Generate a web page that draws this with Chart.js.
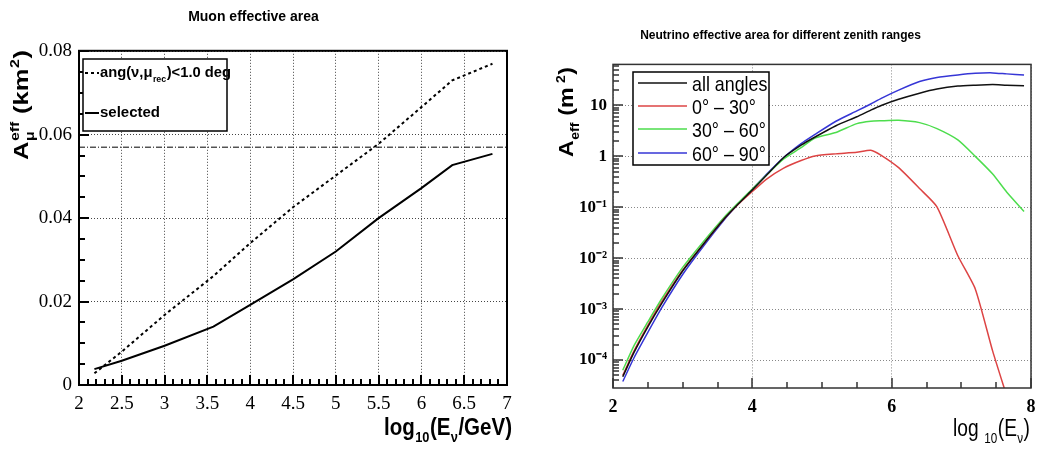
<!DOCTYPE html>
<html>
<head>
<meta charset="utf-8">
<title>Muon and neutrino effective area</title>
<script src="https://cdn.jsdelivr.net/npm/chart.js@4.4.1/dist/chart.umd.min.js"></script>
<style>
html, body { margin: 0; padding: 0; background: #fff; }
#wrap { position: relative; width: 1057px; height: 452px; overflow: hidden; }
#muonChart { position: absolute; left: 0; top: 0; }
#nuChart { position: absolute; left: 530px; top: 0; }
</style>
</head>
<body>
<div id="wrap">
  <canvas id="muonChart" width="530" height="452"></canvas>
  <canvas id="nuChart" width="527" height="452"></canvas>
</div>
<script>
// ---------- left panel: muon effective area (km^2) vs log10(E/GeV) ----------
const muonLogE     = [2.18, 2.5, 3.0, 3.57, 4.0, 4.5, 5.0, 5.5, 6.0, 6.36, 6.83];
const muonAngCut   = [0.0028, 0.0080, 0.0168, 0.0261, 0.0340, 0.0426, 0.0502, 0.0578, 0.0666, 0.0730, 0.0770];
const muonSelected = [0.0038, 0.0058, 0.0094, 0.0140, 0.0192, 0.0253, 0.0320, 0.0400, 0.0472, 0.0527, 0.0554];
const muonRefLevel = 0.0570; // the dash-dot horizontal line
const muonLabels   = ["ang(ν,μrec)<1.0 deg", "selected"];
const muonXMajor = [2, 2.5, 3, 3.5, 4, 4.5, 5, 5.5, 6, 6.5, 7];
const muonXText  = ["2", "2.5", "3", "3.5", "4", "4.5", "5", "5.5", "6", "6.5", "7"];
const muonYMajor = [0, 0.02, 0.04, 0.06, 0.08];
const muonYText  = ["0", "0.02", "0.04", "0.06", "0.08"];

// ---------- right panel: neutrino effective area (m^2), log scale ----------
const nuLogE      = [2.14, 2.3, 2.5, 2.7, 3.0, 3.3, 3.6, 3.8, 4.0, 4.2, 4.45, 4.7, 4.9, 5.2, 5.5, 5.7, 5.85, 6.1, 6.4, 6.65, 6.95, 7.2, 7.45, 7.65, 7.9];
const nuAllAngles = [4.7e-5, 1.4e-4, 4.5e-4, 1.3e-3, 5.6e-3, 0.019, 0.060, 0.117, 0.22, 0.42, 0.95, 1.66, 2.4, 4.0, 6.0, 8.1, 10, 13.2, 17.4, 21, 24, 25, 25.7, 25, 24.5];
const nuZen0to30  = [5.0e-5, 1.5e-4, 4.8e-4, 1.4e-3, 5.8e-3, 0.019, 0.060, 0.115, 0.204, 0.355, 0.59, 0.83, 1.02, 1.12, 1.2, 1.32, 1.05, 0.60, 0.234, 0.102, 0.0112, 2.5e-3, 1.5e-4, 2.0e-5, null];
const nuZen30to60 = [6.3e-5, 1.9e-4, 5.6e-4, 1.6e-3, 6.6e-3, 0.0214, 0.0646, 0.123, 0.229, 0.427, 0.89, 1.48, 2.3, 2.95, 4.4, 4.9, 5.0, 5.1, 4.6, 3.5, 2.1, 1.0, 0.45, 0.20, 0.083];
const nuZen60to90 = [3.8e-5, 1.1e-4, 3.5e-4, 1.07e-3, 4.8e-3, 0.0174, 0.0575, 0.117, 0.224, 0.44, 0.95, 1.78, 2.7, 4.9, 7.8, 10.7, 13.8, 20, 29.5, 35.5, 39.8, 42.7, 43.6, 41.7, 39.8];
const nuLabels    = ["all angles", "0° – 30°", "30° – 60°", "60° – 90°"];
const nuColors    = ["#111111", "#dd4444", "#4ddd4d", "#3636d6"];
const nuXMajor = [2, 4, 6, 8];
const nuXText  = ["2", "4", "6", "8"];
const nuYDecades = [1e-4, 1e-3, 1e-2, 1e-1, 1, 10];
const nuYText    = ["10⁻⁴", "10⁻³", "10⁻²", "10⁻¹", "1", "10"];

const SANS = '"Liberation Sans", Arial, Helvetica, sans-serif';
const SERIF = '"Liberation Serif", "Times New Roman", serif';

// label for a tick value if it is one of the labelled ones, '' otherwise
function tickText(v, values, texts) {
	const i = values.findIndex(m => m === v || Math.abs(m - v) <= 1e-6 * Math.abs(m));
	return i < 0 ? '' : texts[i];
}

function pairs(xs, ys) {
	return xs.map((x, i) => ({x: x, y: ys[i]}));
}

// ROOT-like text: plain strings on the baseline, {sup, sub} pieces smaller and shifted
function drawRich(ctx, pieces, x, y, o) {
	const size = o.size, small = Math.round(size * 0.62);
	const w8 = o.bold ? 'bold ' : '';
	const big = w8 + size + 'px ' + SANS, little = w8 + small + 'px ' + SANS;
	ctx.save();
	ctx.textBaseline = 'alphabetic';
	ctx.textAlign = 'left';
	ctx.fillStyle = '#000';
	const widths = pieces.map(p => {
		if (typeof p === 'string') { ctx.font = big; return ctx.measureText(p).width; }
		ctx.font = little;
		return Math.max(p.sup ? ctx.measureText(p.sup).width : 0, p.sub ? ctx.measureText(p.sub).width : 0) + 1;
	});
	const total = widths.reduce((a, b) => a + b, 0);
	const stretch = o.width ? o.width / total : (o.stretch || 1);
	ctx.translate(x, y);
	if (o.rotate) ctx.rotate(o.rotate);
	ctx.scale(stretch, 1);
	let cx = o.align === 'right' ? -total : 0;
	pieces.forEach((p, i) => {
		if (typeof p === 'string') {
			ctx.font = big;
			ctx.fillText(p, cx, 0);
		} else {
			ctx.font = little;
			if (p.sup) ctx.fillText(p.sup, cx + 0.5, -size * 0.42);
			if (p.sub) ctx.fillText(p.sub, cx + 0.5, size * 0.3);
		}
		cx += widths[i];
	});
	ctx.restore();
}

// ticks pointing into the plot, then the frame round the plot area
function frameAndTicks(chart, o) {
	const ctx = chart.ctx, a = chart.chartArea;
	const xs = chart.scales.x, ys = chart.scales.y;
	ctx.save();
	ctx.setLineDash([]);
	ctx.lineCap = 'butt';
	ctx.strokeStyle = o.tickColor;
	ctx.lineWidth = o.tickWidth;
	ctx.beginPath();
	xs.ticks.forEach(t => {
		const px = Math.round(xs.getPixelForValue(t.value));
		const len = tickText(t.value, o.xVals, o.xVals) !== '' ? o.xMajor : o.xMinor;
		ctx.moveTo(px, a.bottom);
		ctx.lineTo(px, a.bottom - len);
	});
	ys.ticks.forEach(t => {
		const py = Math.round(ys.getPixelForValue(t.value));
		const len = tickText(t.value, o.yVals, o.yVals) !== '' ? o.yMajor : o.yMinor;
		ctx.moveTo(a.left, py);
		ctx.lineTo(a.left + len, py);
	});
	ctx.stroke();
	ctx.lineWidth = o.frameWidth;
	ctx.strokeStyle = o.frameColor;
	ctx.strokeRect(a.left, a.top, a.right - a.left, a.bottom - a.top);
	ctx.restore();
}

function legendBox(ctx, x1, y1, x2, y2, lw) {
	ctx.save();
	ctx.setLineDash([]);
	ctx.fillStyle = '#fff';
	ctx.fillRect(x1, y1, x2 - x1, y2 - y1);
	ctx.strokeStyle = '#000';
	ctx.lineWidth = lw;
	ctx.strokeRect(x1, y1, x2 - x1, y2 - y1);
	ctx.restore();
}

function legendLine(ctx, ds, x1, x2, y) {
	ctx.save();
	ctx.strokeStyle = ds.borderColor;
	ctx.lineWidth = ds.borderWidth;
	ctx.setLineDash(ds.borderDash || []);
	ctx.beginPath();
	ctx.moveTo(x1, y);
	ctx.lineTo(x2, y);
	ctx.stroke();
	ctx.restore();
}

//******************************* left chart *******************************
const muonDeco = {
	id: 'muonDeco',
	afterDraw(chart) {
		const ctx = chart.ctx, ds = chart.data.datasets;
		frameAndTicks(chart, {tickColor: '#000', tickWidth: 2, frameColor: '#000', frameWidth: 2, xMajor: 10, xMinor: 6, yMajor: 10, yMinor: 6,
			xVals: muonXMajor, yVals: muonYMajor});
		legendBox(ctx, 83, 59, 227, 131, 1.5);
		legendLine(ctx, ds[0], 85, 99, 73);
		legendLine(ctx, ds[1], 85, 99, 113);
		drawRich(ctx, ['ang(ν,μ', {sub: 'rec'}, ')<1.0 deg'], 100, 77, {size: 15, bold: true, width: 131});
		drawRich(ctx, [muonLabels[1]], 100, 117, {size: 15, bold: true});
		drawRich(ctx, ['A', {sup: 'eff', sub: 'μ'}, ' (km', {sup: '2'}, ')'], 28, 160, {size: 21, bold: true, rotate: -Math.PI / 2, width: 110});
		drawRich(ctx, ['log', {sub: '10'}, '(E', {sub: 'ν'}, '/GeV)'], 512, 435, {size: 24, bold: true, align: 'right', width: 128});
	}
};

new Chart(document.getElementById('muonChart'), {
	type: 'line',
	data: {
		datasets: [
			{label: muonLabels[0], data: pairs(muonLogE, muonAngCut), borderColor: '#000', borderWidth: 2, borderDash: [3, 3], pointRadius: 0, tension: 0},
			{label: muonLabels[1], data: pairs(muonLogE, muonSelected), borderColor: '#000', borderWidth: 2, pointRadius: 0, tension: 0},
			{label: 'level', data: [{x: 2, y: muonRefLevel}, {x: 7, y: muonRefLevel}], borderColor: '#000', borderWidth: 1, borderDash: [6, 2, 1, 2], pointRadius: 0}
		]
	},
	options: {
		responsive: false,
		animation: false,
		events: [],
		layout: {padding: {top: 0, right: 23, bottom: 0, left: 0}},
		plugins: {
			legend: {display: false},
			tooltip: {enabled: false},
			title: {display: true, text: 'Muon effective area', color: '#000', font: {family: SANS, size: 14, weight: 'bold'}, padding: {top: 9, bottom: 25}}
		},
		scales: {
			x: {
				type: 'linear', min: 2, max: 7,
				afterFit: s => { s.height = 67; },
				border: {display: false, dash: [1, 2]},
				grid: {drawTicks: false, lineWidth: 1, color: c => c.tick && tickText(c.tick.value, muonXMajor, muonXText) !== '' ? '#444' : 'rgba(0,0,0,0)'},
				ticks: {stepSize: 0.1, maxTicksLimit: 200, autoSkip: false, maxRotation: 0, includeBounds: false, padding: 8, color: '#000', font: {family: SERIF, size: 19},
					callback: v => tickText(v, muonXMajor, muonXText)}
			},
			y: {
				type: 'linear', min: 0, max: 0.0801,
				afterFit: s => { s.width = 79; },
				border: {display: false, dash: [1, 2]},
				grid: {drawTicks: false, lineWidth: 1, color: c => c.tick && tickText(c.tick.value, muonYMajor, muonYText) !== '' ? '#444' : 'rgba(0,0,0,0)'},
				ticks: {stepSize: 0.005, maxTicksLimit: 200, autoSkip: false, includeBounds: false, padding: 7, color: '#000', font: {family: SERIF, size: 19},
					callback: v => tickText(v, muonYMajor, muonYText)}
			}
		}
	},
	plugins: [muonDeco]
});

//******************************* right chart *******************************
const nuDeco = {
	id: 'nuDeco',
	afterDraw(chart) {
		const ctx = chart.ctx, ds = chart.data.datasets;
		frameAndTicks(chart, {tickColor: '#333', tickWidth: 1.5, frameColor: '#333', frameWidth: 1.5, xMajor: 10, xMinor: 6, yMajor: 10, yMinor: 6,
			xVals: nuXMajor, yVals: nuYDecades});
		legendBox(ctx, 103, 72, 239, 165, 1.5);
		const rows = [83, 106, 129, 153];
		rows.forEach((y, i) => {
			legendLine(ctx, ds[i], 108, 157, y);
			drawRich(ctx, [nuLabels[i]], 162, y + 7.5, {size: 21, stretch: 0.85});
		});
		drawRich(ctx, ['A', {sub: 'eff'}, ' (m', {sup: ' 2'}, ')'], 43, 157, {size: 20, bold: true, rotate: -Math.PI / 2, width: 90});
		drawRich(ctx, ['log ', {sub: '10'}, '(E', {sub: 'ν'}, ')'], 500, 436, {size: 23, align: 'right', width: 77});
	}
};

const nuSeries = [nuAllAngles, nuZen0to30, nuZen30to60, nuZen60to90];

new Chart(document.getElementById('nuChart'), {
	type: 'line',
	data: {
		datasets: nuSeries.map((vals, i) => ({
			label: nuLabels[i], data: pairs(nuLogE, vals), borderColor: nuColors[i], borderWidth: 1.5, pointRadius: 0, tension: 0.2
		}))
	},
	options: {
		responsive: false,
		animation: false,
		events: [],
		layout: {padding: {top: 0, right: 26, bottom: 0, left: 0}},
		plugins: {
			legend: {display: false},
			tooltip: {enabled: false},
			title: {display: true, text: 'Neutrino effective area for different zenith ranges', color: '#000', font: {family: SANS, size: 12, weight: 'bold'}, padding: {top: 28, bottom: 22}}
		},
		scales: {
			x: {
				type: 'linear', min: 2, max: 8,
				afterFit: s => { s.height = 64; },
				border: {display: false, dash: [1, 2]},
				grid: {drawTicks: false, lineWidth: 1, color: c => c.tick && tickText(c.tick.value, nuXMajor, nuXText) !== '' ? '#888' : 'rgba(0,0,0,0)'},
				ticks: {stepSize: 0.5, maxTicksLimit: 100, autoSkip: false, maxRotation: 0, includeBounds: false, padding: 9, color: '#000', font: {family: SERIF, size: 18, weight: 'bold'},
					callback: v => tickText(v, nuXMajor, nuXText)}
			},
			y: {
				type: 'logarithmic', min: 2.83e-5, max: 64,
				afterFit: s => { s.width = 83; },
				// keep the 1..9 x 10^n ticks only (drops the 1.5 steps and the bounds)
				afterBuildTicks: s => {
					s.ticks = s.ticks.filter(t => {
						const m = t.value / Math.pow(10, Math.floor(Math.log10(t.value) + 1e-9));
						return Math.abs(m - Math.round(m)) < 1e-6;
					});
				},
				border: {display: false, dash: [1, 2]},
				grid: {drawTicks: false, lineWidth: 1, color: c => c.tick && tickText(c.tick.value, nuYDecades, nuYText) !== '' ? '#888' : 'rgba(0,0,0,0)'},
				ticks: {autoSkip: false, padding: 6, color: '#000', font: {family: SERIF, size: 17, weight: 'bold'},
					callback: v => tickText(v, nuYDecades, nuYText)}
			}
		}
	},
	plugins: [nuDeco]
});
</script>
</body>
</html>
